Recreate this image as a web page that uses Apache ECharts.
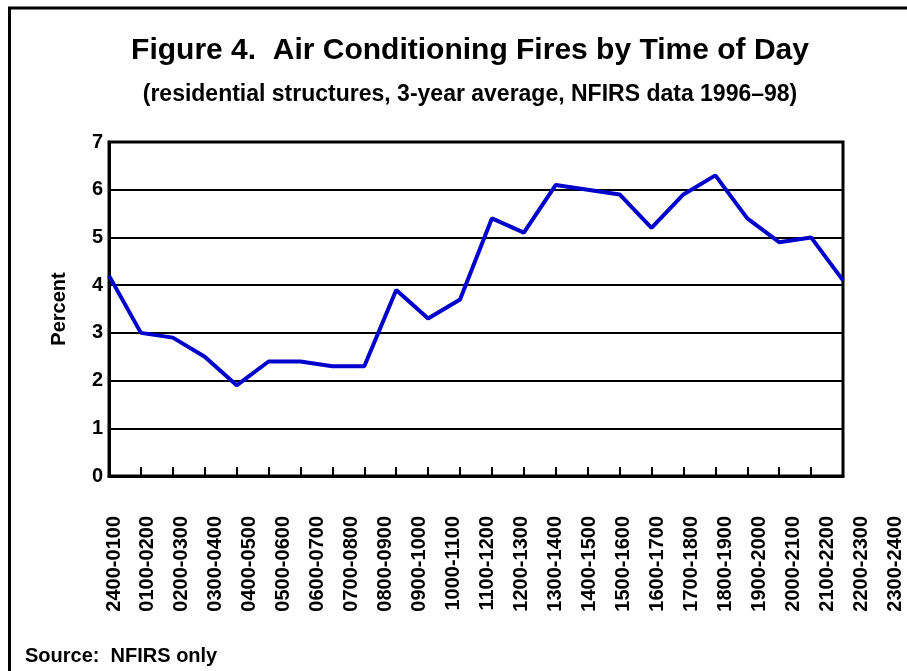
<!DOCTYPE html>
<html>
<head>
<meta charset="utf-8">
<script src="https://cdn.jsdelivr.net/npm/echarts@6/dist/echarts.min.js"></script>
<style>
  html, body { margin: 0; padding: 0; background: #fff; }
  #main { width: 907px; height: 671px; }
</style>
</head>
<body>
<div id="main"></div>
<script>
// hour ranges along the x axis
var hours = ['2400-0100', '0100-0200', '0200-0300', '0300-0400', '0400-0500', '0500-0600',
             '0600-0700', '0700-0800', '0800-0900', '0900-1000', '1000-1100', '1100-1200',
             '1200-1300', '1300-1400', '1400-1500', '1500-1600', '1600-1700', '1700-1800',
             '1800-1900', '1900-2000', '2000-2100', '2100-2200', '2200-2300', '2300-2400'];
// percent of fires
var percent = [4.2, 3.0, 2.9, 2.5, 1.9, 2.4, 2.4, 2.3, 2.3, 3.9, 3.3, 3.7,
               5.4, 5.1, 6.1, 6.0, 5.9, 5.2, 5.9, 6.3, 5.4, 4.9, 5.0, 4.1];
var yTicks = [0, 7, 1]; // min, max, step

var font = '"Liberation Sans", Arial, sans-serif';

var myChart = echarts.init(document.getElementById('main'));
var option = {
    animation: false,
    backgroundColor: '#fff',
    textStyle: { fontFamily: font },
    title: [
        {
            text: 'Figure 4.  Air Conditioning Fires by Time of Day',
            left: 465, top: 31, textAlign: 'center',
            textStyle: { fontSize: 30, fontWeight: 'bold', color: '#000', fontFamily: font }
        },
        {
            text: '(residential structures, 3-year average, NFIRS data 1996\u201398)',
            left: 465, top: 78, textAlign: 'center',
            textStyle: { fontSize: 23, fontWeight: 'bold', color: '#000', fontFamily: font }
        },
        {
            text: 'Source:  NFIRS only',
            left: 20, top: 641,
            textStyle: { fontSize: 20, fontWeight: 'bold', color: '#000', fontFamily: font }
        }
    ],
    graphic: [{
        type: 'rect',
        shape: { x: 9.5, y: 8, width: 1000, height: 1000 },
        style: { fill: 'none', stroke: '#000', lineWidth: 3 }
    }],
    grid: [
        { left: 109, right: 64, top: 142, bottom: 195, show: true, borderColor: '#000', borderWidth: 3 },
        { left: 114, right: 12, top: 142, bottom: 195 }
    ],
    xAxis: [
        {
            gridIndex: 0,
            type: 'category',
            data: hours,
            boundaryGap: false,
            axisLine: { lineStyle: { color: '#000', width: 3 } },
            axisTick: { inside: true, length: 9, interval: 0, lineStyle: { color: '#000', width: 2 } },
            axisLabel: { show: false, interval: 0 }
        },
        {
            gridIndex: 1,
            type: 'category',
            data: hours,
            boundaryGap: false,
            axisLine: { show: false },
            axisTick: { show: false },
            axisLabel: {
                rotate: 90, margin: 40, interval: 0,
                fontSize: 20, fontWeight: 'bold', color: '#000', fontFamily: font
            }
        }
    ],
    yAxis: [
        {
            gridIndex: 0,
            type: 'value',
            min: yTicks[0], max: yTicks[1], interval: yTicks[2],
            name: 'Percent',
            nameLocation: 'middle',
            nameRotate: 90,
            nameGap: 40,
            nameTextStyle: { fontSize: 20, fontWeight: 'bold', color: '#000', fontFamily: font },
            axisLine: { show: true, lineStyle: { color: '#000', width: 3 } },
            axisTick: { show: false },
            axisLabel: { margin: 6, fontSize: 20, fontWeight: 'bold', color: '#000', fontFamily: font },
            splitLine: { lineStyle: { color: '#000', width: 2 } }
        },
        { gridIndex: 1, type: 'value', show: false, min: yTicks[0], max: yTicks[1] }
    ],
    series: [{
        type: 'line',
        xAxisIndex: 0,
        yAxisIndex: 0,
        data: percent,
        symbol: 'none',
        lineStyle: { color: '#0000CC', width: 4 }
    }]
};
myChart.setOption(option);
</script>
</body>
</html>
